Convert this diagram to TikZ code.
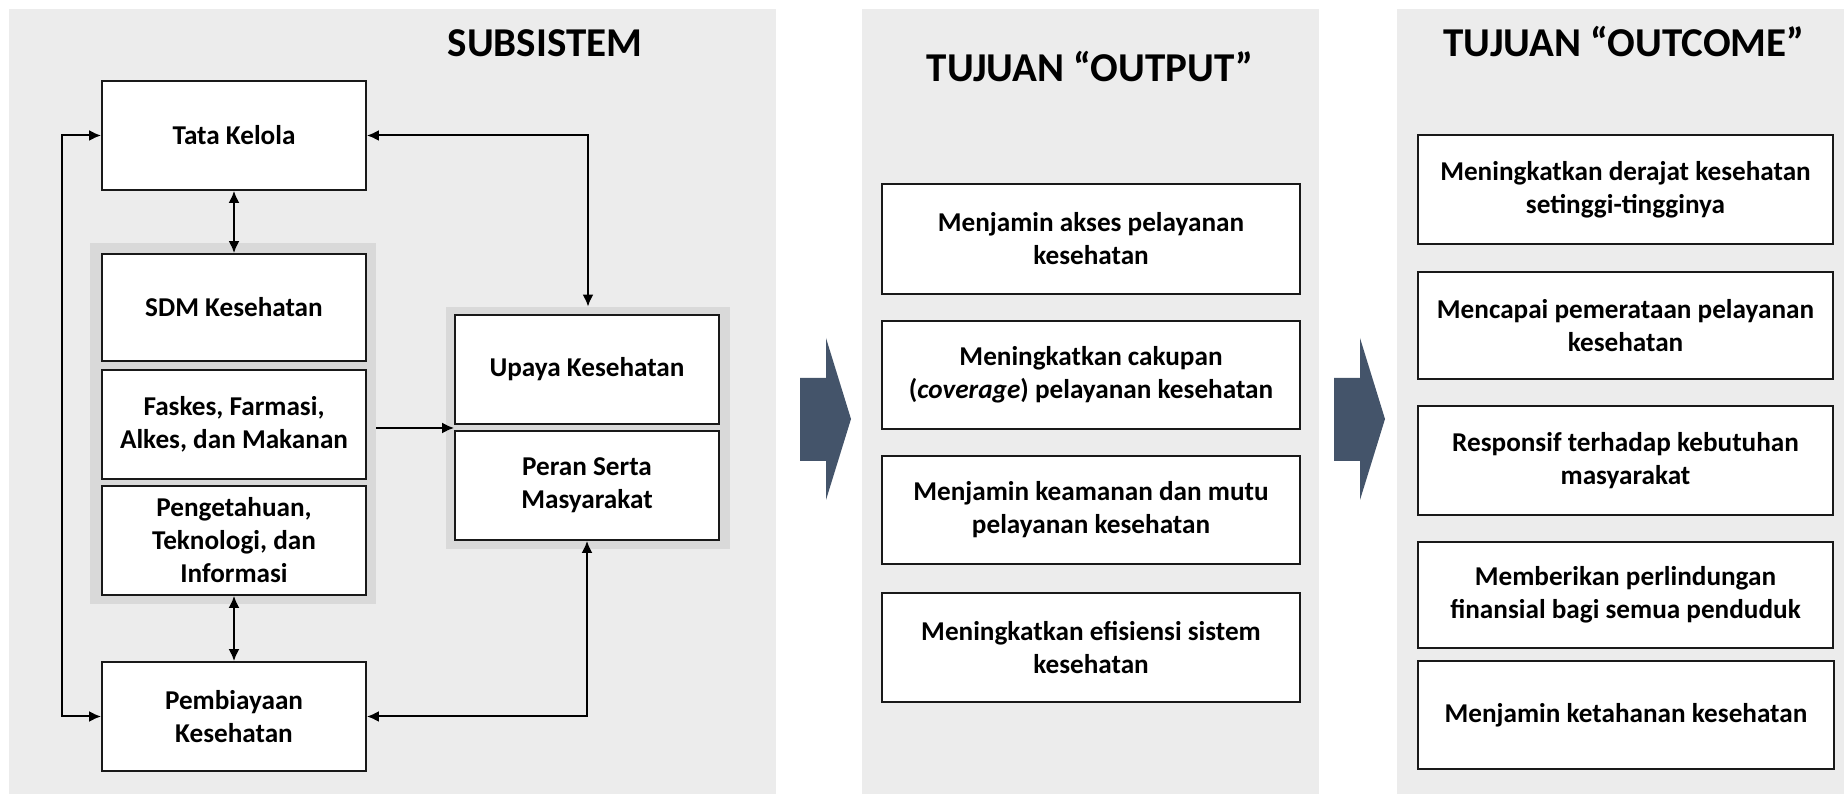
\documentclass[tikz,border=0pt]{standalone}
\usepackage{fontspec}
\setmainfont{Carlito}
\usetikzlibrary{arrows.meta,fit}
\definecolor{panelgray}{HTML}{ECECEC}
\definecolor{groupgray}{HTML}{D9D9D9}
\definecolor{chevblue}{HTML}{44546A}
\begin{document}
\begin{tikzpicture}[x=0.5pt,y=-0.5pt,
  panel/.style={fill=panelgray,draw=none,inner sep=0pt},
  group/.style={fill=groupgray,draw=none,inner sep=0pt},
  box/.style={draw=black!90,line width=0.9pt,fill=white,inner sep=0pt},
  boxtext/.style={inner sep=0pt,align=center,
    font=\bfseries\fontsize{13.6}{16.5}\selectfont},
  heading/.style={anchor=base,inner sep=0pt,font=\bfseries\fontsize{20.5}{24}\selectfont},
  tip/.tip={Latex[length=6pt,width=5.5pt]},
  link/.style={line width=1pt,tip-tip},
  onelink/.style={line width=1pt,-tip},
  chevron/.style={fill=chevblue,draw=none}]
\useasboundingbox (0,0) rectangle (1844,795);

% column panels
\node[panel,fit={(9,9) (776,794)}] (p1) {};
\node[panel,fit={(862,9) (1319,794)}] (p2) {};
\node[panel,fit={(1397,9) (1844,794)}] (p3) {};

% headings
\node[heading] (t1) at (545,57) {SUBSISTEM};
\node[heading] (t2) at (1090,82) {TUJUAN “OUTPUT”};
\node[heading] (t3) at (1624,57) {TUJUAN “OUTCOME”};

% subsystem groups
\node[group,fit={(90,243) (376,604)}] (lg) {};
\node[group,fit={(446,307) (730,549)}] (rg) {};

% subsystem boxes
\node[box,fit={(102,81) (366,190)}] (tk) {};
\node[box,fit={(102,254) (366,361)}] (sdm) {};
\node[box,fit={(102,370) (366,479)}] (fk) {};
\node[box,fit={(102,486) (366,595)}] (pk) {};
\node[box,fit={(102,662) (366,771)}] (pb) {};
\node[box,fit={(455,315) (719,424)}] (up) {};
\node[box,fit={(455,431) (719,540)}] (ps) {};
\node[boxtext] (tkT) at (tk) {Tata Kelola};
\node[boxtext] (sdmT) at (sdm) {SDM Kesehatan};
\node[boxtext] (fkT) at (fk) {Faskes, Farmasi,\\Alkes, dan Makanan};
\node[boxtext] (pkT) at (pk) {Pengetahuan,\\Teknologi, dan\\Informasi};
\node[boxtext] (pbT) at (pb) {Pembiayaan\\Kesehatan};
\node[boxtext] (upT) at (up) {Upaya Kesehatan};
\node[boxtext] (psT) at (ps) {Peran Serta\\Masyarakat};

% subsystem connectors
\coordinate (lx) at (62,0);
\draw[link] (tk.west) -- (tk.west -| lx) -- (pb.west -| lx) -- (pb.west);
\draw[link] (tk.south) -- (sdm.north);
\draw[link] (tk.east) -| (rg.north);
\draw[onelink] (lg.east |- rg.center) -- (up.west |- rg.center);
\draw[link] (pk.south) -- (pb.north);
\draw[link] (pb.east) -| (ps.south);

% output goals
\node[box,fit={(882,184) (1300,294)}] (o1) {};
\node[box,fit={(882,321) (1300,429)}] (o2) {};
\node[box,fit={(882,456) (1300,564)}] (o3) {};
\node[box,fit={(882,593) (1300,702)}] (o4) {};
\node[boxtext] (o1T) at (o1) {Menjamin akses pelayanan\\kesehatan};
\node[boxtext] (o2T) at (o2) {Meningkatkan cakupan\\(\textit{coverage}) pelayanan kesehatan};
\node[boxtext] (o3T) at (o3) {Menjamin keamanan dan mutu\\pelayanan kesehatan};
\node[boxtext] (o4T) at (o4) {Meningkatkan efisiensi sistem\\kesehatan};

% outcome goals
\node[box,fit={(1418,135) (1833,244)}] (c1) {};
\node[box,fit={(1418,272) (1833,379)}] (c2) {};
\node[box,fit={(1418,406) (1833,515)}] (c3) {};
\node[box,fit={(1418,542) (1833,648)}] (c4) {};
\node[box,fit={(1418,661) (1834,769)}] (c5) {};
\node[boxtext] (c1T) at (c1) {Meningkatkan derajat kesehatan\\setinggi-tingginya};
\node[boxtext] (c2T) at (c2) {Mencapai pemerataan pelayanan\\kesehatan};
\node[boxtext] (c3T) at (c3) {Responsif terhadap kebutuhan\\masyarakat};
\node[boxtext] (c4T) at (c4) {Memberikan perlindungan\\finansial bagi semua penduduk};
\node[boxtext] (c5T) at (c5) {Menjamin ketahanan kesehatan};

% block arrows between columns
\fill[chevron] (800,378) -- (826,378) -- (826,338) -- (851,419) -- (826,500) -- (826,461) -- (800,461) -- cycle;
\fill[chevron] (1334,378) -- (1360,378) -- (1360,338) -- (1385,419) -- (1360,500) -- (1360,461) -- (1334,461) -- cycle;
\end{tikzpicture}
\end{document}
